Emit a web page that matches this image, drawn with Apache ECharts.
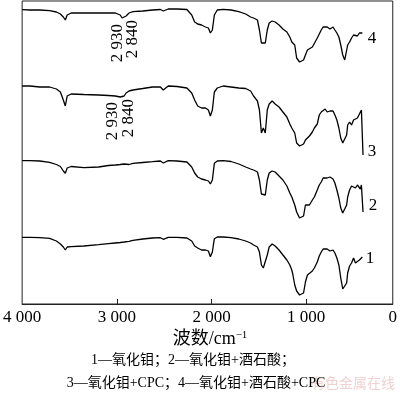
<!DOCTYPE html>
<html>
<head>
<meta charset="utf-8">
<script src="https://cdn.jsdelivr.net/npm/echarts@6/dist/echarts.min.js"></script>
<style>html,body{margin:0;padding:0;background:#fff}#c{width:400px;height:395px}</style>
</head>
<body>
<div id="c"></div>
<script>
// wavenumber (cm^-1) sample positions
const wavenumbers = [
4000,3917,3814,3710,3638,3596,3565,3544,3524,3482,
3348,3192,3089,3016,2964,2944,2923,2902,2871,2830,
2726,2623,2540,2509,2488,2457,2364,2260,2209,2178,
2146,2105,2064,2033,2012,1991,1970,1939,1877,1794,
1712,1639,
1587,1556,1515,1494,1473,1453,1432,1411,1391,1360,
1328,1287,1246,1204,1173,1152,1142,1121,1101,1070,
1049,1028,1008,987,966,935,914,883,862,841,
821,800,779,749,717,697,676,655,635,614,
593,573,562,542,521,500,480,459,438,428,
417,407,400
];
// offset transmittance (arbitrary units) of each curve
const spec4 = [
294.3,294,294,293.3,292,290,287,284,289,291,
291,291,291,291,289,286,286,288,291,292.3,
293,294,294.5,293,293.5,295,295,294.5,289,282,
280,279,277,276,271,274,289,294,294.7,294,
292.3,290,
287,286,284,274,261,262,261,274,281,283,
282,279,275,272,267,262,263,259,246,242,
240,244,249,254,252,257,259,266,270,274,
277,278,277,275,277,274,271,267,259,249,
244,246,259,262,266,269,270,268,271,270,
271,271,271
];
const spec3 = [
218,218,217,217,215,212,204,198,208,210,
209.5,209,208.5,208,207,205,208,211,213,214,
215.5,217,217,214,216,218,217.5,216,211,204,
198,196,196,194,188,194,212,216,218,217,
216,215.5,
213,208,203,194,171,176,171,194,200,203,
200,197,192,187,180,176,177,171,161,158,
158,160,164,165,168,172,176,180,189,192,
194,195,192,193,193,189,184,176,166,161,
161,169,179,182,179,184,182,186,190,190,
194,192,149
];
const spec2 = [
143.3,143.3,143,141.7,139.5,137.5,133,130.7,136,137.5,
136.3,137,138.5,139,139.5,139.7,140,139,139.5,140.7,
141.5,142.3,143,141,142,143.3,143,142,137,131,
127,125,124,123,120,124,140.7,143,143.3,142.5,
140,137,
135,134,132,124,110,108,109,124,131,133,
132,128,124,118,111,107,108,99,92,86,
84,88,99,101,99,104,107,114,119,122,
126,128,126,127,125,121,114,106,96,91,
89,99,107,114,118,120,116,119,120,115,
119,120,92
];
const spec1 = [
66.7,66.7,66.3,65.7,63,60,57,54,57,57.3,
58,59.3,60.3,61,61.5,61.7,62,62.3,62.7,63.7,
65,66,66.3,64.7,65.5,66.7,66.7,66,63,58,
56,54,54,53,47.3,52,65.3,67,67,66.3,
65,63,
61,59,57,52,39,36,36,49,57,60,
58,54,49,44,39,34,30,19,13,9,
7,11,22,29,27,33,36,42,48,52,
55,56,55,53,54,51,46,39,26,15,
14,21,31,38,41,46,41,42,44,45,
46,47,47
];
const seriesNames = ['1','2','3','4'];
const tickValues = [3000,2000,1000];
const labelValues = [4000,3000,2000,1000,86];
const tickLabels = ['4 000','3 000','2 000','1 000','0'];
const axisEnd = 86;
const peakLabels = ['2 930','2 840'];
const axisTitle = '波数/cm';
const caption1 = '1—氧化钼；2—氧化钼+酒石酸；';
const caption2 = '3—氧化钼+CPC；4—氧化钼+酒石酸+CPC';
const watermark = '有色金属在线';

const SERIF = "'Liberation Serif','Noto Sans CJK SC',serif";
const chart = echarts.init(document.getElementById('c'), null, {renderer:'canvas'});
const mk = arr => wavenumbers.map((w,i)=>[w, arr[i]]);
const specs = [spec1, spec2, spec3, spec4];

function txt(x, y, text, size, extra) {
  return Object.assign({
    type:'text', x:x, y:y, silent:true,
    style:{text:text, fontSize:size, fontFamily:SERIF, fill:'#000', align:'center', verticalAlign:'middle'}
  }, extra || {});
}

chart.setOption({
  animation:false,
  backgroundColor:'#fff',
  grid:{left:17, right:5, top:1, bottom:91, show:true, borderColor:'#222', borderWidth:1},
  xAxis:{
    type:'value', inverse:true, min:axisEnd, max:4000,
    axisLine:{show:true, lineStyle:{color:'#222', width:1}},
    axisTick:{show:true, inside:true, length:5, customValues:tickValues, lineStyle:{color:'#222'}},
    axisLabel:{show:true, margin:5, customValues:labelValues, color:'#000', fontSize:17, fontFamily:SERIF,
      formatter: v => tickLabels[labelValues.indexOf(v)]},
    splitLine:{show:false}
  },
  yAxis:{
    type:'value', min:0, max:303,
    axisLine:{show:false}, axisTick:{show:false}, axisLabel:{show:false}, splitLine:{show:false}
  },
  series: specs.map((s,i)=>({
    name:seriesNames[i], type:'line', data:mk(s), showSymbol:false, symbol:'none',
    lineStyle:{color:'#000', width:1.3}, z:3
  })),
  graphic:[
    txt(372, 39, seriesNames[3], 17),
    txt(372, 152, seriesNames[2], 17),
    txt(373, 206, seriesNames[1], 17),
    txt(370, 259, seriesNames[0], 17),
    txt(118, 43, peakLabels[0], 17, {rotation:Math.PI/2}),
    txt(133, 39, peakLabels[1], 17, {rotation:Math.PI/2}),
    txt(113, 121, peakLabels[0], 17, {rotation:Math.PI/2}),
    txt(128.5, 118, peakLabels[1], 17, {rotation:Math.PI/2}),
    {type:'text', x:210, y:339, silent:true,
     style:{text:'{a|'+axisTitle+'}{s|−1}', align:'center', verticalAlign:'middle', fill:'#000',
       rich:{a:{fontSize:18, fontFamily:SERIF, fill:'#000'}, s:{fontSize:11, fontFamily:SERIF, fill:'#000', verticalAlign:'top'}}}},
    txt(193, 360, caption1, 14),
    txt(196, 383, caption2, 14),
    {type:'text', x:353, y:383, silent:true, z:-1,
     style:{text:watermark, fontSize:14, fontFamily:"'Noto Sans CJK SC'", fill:'rgba(225,150,150,0.45)', align:'center', verticalAlign:'middle'}}
  ]
});
</script>
</body>
</html>
